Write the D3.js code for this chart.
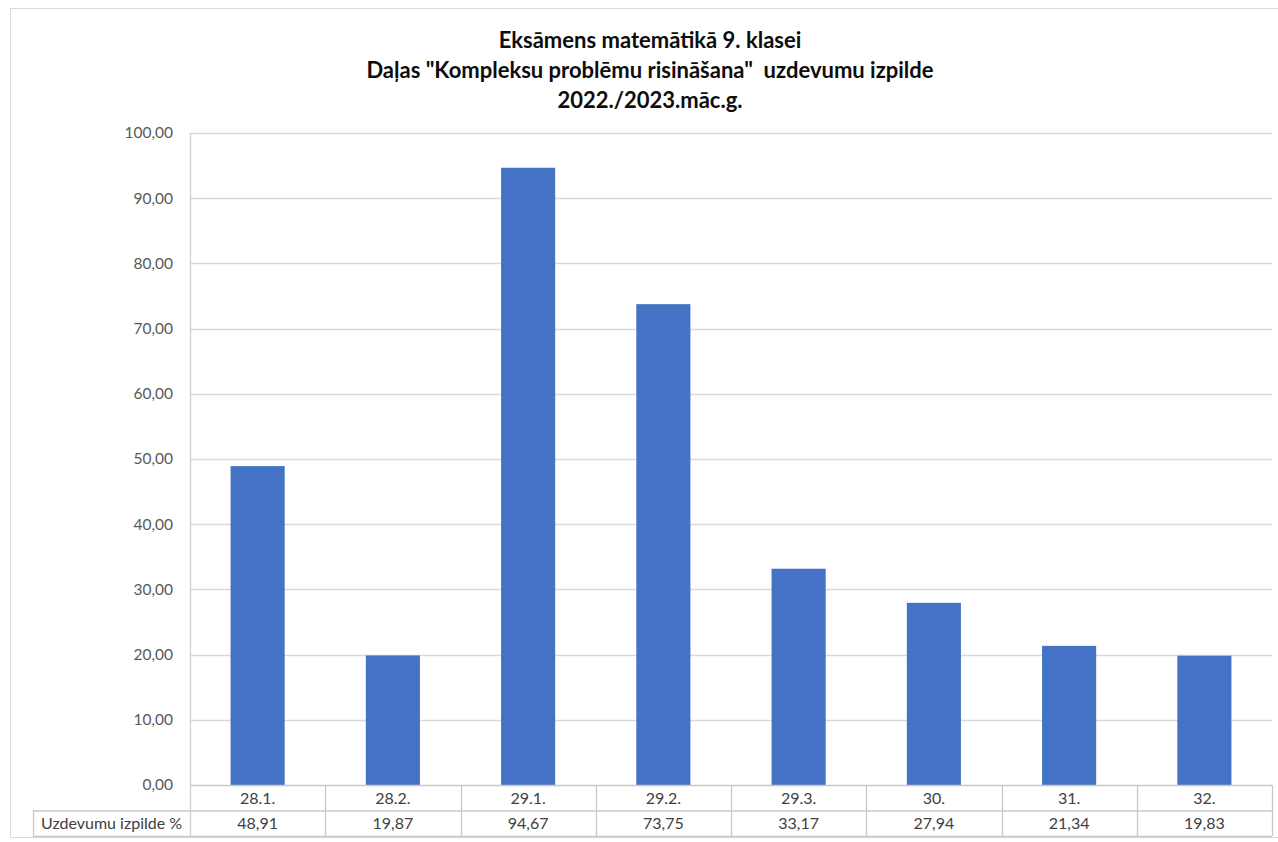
<!DOCTYPE html>
<html>
<head>
<meta charset="utf-8">
<script src="https://cdn.jsdelivr.net/npm/d3@7"></script>
<style>
  html, body { margin: 0; padding: 0; background: #fff; }
  svg { display: block; }
</style>
</head>
<body>
<svg id="chart" width="1278" height="842"></svg>
<script>
// Task labels, completion percentages and axis ticks
const categories = ["28.1.", "28.2.", "29.1.", "29.2.", "29.3.", "30.", "31.", "32."];
const values = [48.91, 19.87, 94.67, 73.75, 33.17, 27.94, 21.34, 19.83];
const seriesName = "Uzdevumu izpilde %";
const yTicks = [0, 10, 20, 30, 40, 50, 60, 70, 80, 90, 100];
const titleLines = [
  "Eksāmens matemātikā 9. klasei",
  "Daļas \"Kompleksu problēmu risināšana\"  uzdevumu izpilde",
  "2022./2023.māc.g."
];

const svg = d3.select("#chart");
const fontFamily = "Lato, 'Open Sans', 'Liberation Sans', sans-serif";
const comma2 = v => d3.format(".2f")(v).replace(".", ",");

// Layout
const plot = { left: 190, right: 1272, top: 133, bottom: 785 };
const rowH = 25.5;
const tableLeft = 33;

// Outer chart frame
svg.append("rect")
  .attr("x", 10.5).attr("y", 8.5)
  .attr("width", 1300).attr("height", 829)
  .attr("fill", "#fff").attr("stroke", "#d9d9d9").attr("stroke-width", 1);

// Title
svg.append("g").selectAll("text").data(titleLines).join("text")
  .attr("x", 650).attr("y", (d, i) => 48 + i * 30)
  .attr("text-anchor", "middle")
  .attr("font-family", fontFamily)
  .attr("font-weight", "bold")
  .attr("font-size", 22)
  .attr("fill", "#0d0d0d")
  .style("white-space", "pre")
  .text(d => d);

// Scales
const x = d3.scaleBand().domain(categories).range([plot.left, plot.right]).paddingInner(0).paddingOuter(0);
const y = d3.scaleLinear().domain([0, 100]).range([plot.bottom, plot.top]);

// Gridlines
svg.append("g").selectAll("line").data(yTicks.filter(t => t > 0)).join("line")
  .attr("x1", plot.left).attr("x2", plot.right)
  .attr("y1", d => Math.round(y(d)) + 0.5).attr("y2", d => Math.round(y(d)) + 0.5)
  .attr("stroke", "#d9d9d9").attr("stroke-width", 1.3);

// Y axis labels
const yAxis = d3.axisLeft(y).tickValues(yTicks).tickFormat(comma2).tickSize(0).tickPadding(17);
const ya = svg.append("g").attr("transform", `translate(${plot.left},0)`).call(yAxis);
ya.select(".domain").remove();
ya.selectAll("text")
  .attr("font-family", fontFamily).attr("font-size", 15.5).attr("fill", "#595959");

// Bars
const barW = x.bandwidth() * 0.4;
svg.append("g").selectAll("rect").data(values).join("rect")
  .attr("x", (d, i) => x(categories[i]) + (x.bandwidth() - barW) / 2)
  .attr("width", barW)
  .attr("y", d => y(d))
  .attr("height", d => y(0) - y(d))
  .attr("fill", "#4472c4");

// Vertical axis line
svg.append("line")
  .attr("x1", plot.left + 0.5).attr("x2", plot.left + 0.5)
  .attr("y1", plot.top).attr("y2", plot.bottom + 2 * rowH)
  .attr("stroke", "#d0d0d0").attr("stroke-width", 1.3);

// Data table
const table = svg.append("g");
const lineColor = "#c8c8c8";
const hLines = [
  { x1: plot.left, y: plot.bottom },
  { x1: tableLeft, y: plot.bottom + rowH },
  { x1: tableLeft, y: plot.bottom + 2 * rowH }
];
table.selectAll("line.h").data(hLines).join("line")
  .attr("class", "h")
  .attr("x1", d => d.x1).attr("x2", plot.right)
  .attr("y1", d => d.y + 0.5).attr("y2", d => d.y + 0.5)
  .attr("stroke", lineColor).attr("stroke-width", 1.3);

const bounds = categories.map(c => x(c)).concat([plot.right]).slice(1);
table.selectAll("line.v").data(bounds).join("line")
  .attr("class", "v")
  .attr("x1", d => Math.round(d) + 0.5).attr("x2", d => Math.round(d) + 0.5)
  .attr("y1", plot.bottom).attr("y2", plot.bottom + 2 * rowH)
  .attr("stroke", lineColor).attr("stroke-width", 1.3);
table.append("line")
  .attr("x1", tableLeft + 0.5).attr("x2", tableLeft + 0.5)
  .attr("y1", plot.bottom + rowH).attr("y2", plot.bottom + 2 * rowH)
  .attr("stroke", lineColor).attr("stroke-width", 1.3);

const cellText = (sel) => sel
  .attr("text-anchor", "middle")
  .attr("font-family", fontFamily).attr("font-size", 16).attr("fill", "#404040");

table.selectAll("text.cat").data(categories).join("text")
  .attr("class", "cat")
  .attr("x", d => x(d) + x.bandwidth() / 2)
  .attr("y", plot.bottom + rowH / 2 + 6)
  .call(cellText)
  .text(d => d);

table.selectAll("text.val").data(values).join("text")
  .attr("class", "val")
  .attr("x", (d, i) => x(categories[i]) + x.bandwidth() / 2)
  .attr("y", plot.bottom + rowH * 1.5 + 6)
  .call(cellText)
  .text(d => comma2(d));

table.append("text")
  .attr("x", (tableLeft + plot.left) / 2)
  .attr("y", plot.bottom + rowH * 1.5 + 6)
  .call(cellText)
  .text(seriesName);
</script>
</body>
</html>
